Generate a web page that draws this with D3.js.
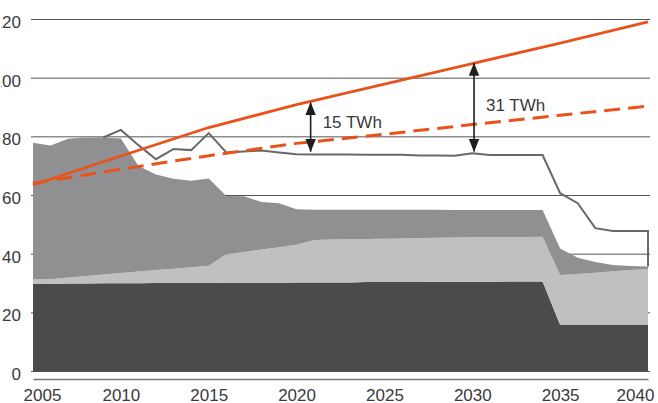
<!DOCTYPE html>
<html>
<head>
<meta charset="utf-8">
<script src="https://cdn.jsdelivr.net/npm/d3@7"></script>
<style>
  html, body { margin: 0; padding: 0; background: #fff; }
  svg { display: block; font-family: "Liberation Sans", Arial, Helvetica, sans-serif; }
</style>
</head>
<body>
<svg id="chart" width="658" height="403"></svg>
<script>
// ---- data ----
const years = d3.range(2005, 2041);
// stacked layers (TWh)
const baseLayer = [29.7,29.7,29.8,29.8,29.9,29.9,29.9,30.0,30.0,30.0,30.0,30.1,30.1,30.1,30.1,30.2,30.2,30.2,30.2,30.3,30.3,30.3,30.3,30.4,30.4,30.4,30.4,30.5,30.5,30.5,15.7,15.7,15.7,15.7,15.7,15.7];
const lightTop  = [31.3,31.3,31.9,32.4,32.9,33.4,33.9,34.4,34.9,35.4,35.9,39.8,40.6,41.4,42.2,43.0,44.7,44.8,44.9,45.0,45.1,45.2,45.3,45.4,45.5,45.6,45.6,45.7,45.7,45.8,32.7,33.1,33.5,34.0,34.4,34.8];
const midTop    = [77.8,76.9,79.2,79.6,79.6,79.3,69.9,67.0,65.5,64.9,65.6,59.7,59.6,57.6,57.2,55.1,55.0,55.0,55.0,55.0,55.0,55.0,55.0,55.0,54.9,54.9,54.9,54.9,54.9,54.9,41.8,38.6,37.2,36.1,35.8,35.6];
const lightLayer = lightTop.map((v, i) => +(v - baseLayer[i]).toFixed(2));
const midLayer   = midTop.map((v, i) => +(v - lightTop[i]).toFixed(2));

// demand line (grey)
const demandYears  = [2009,2010,2011,2012,2013,2014,2015,2016,2017,2018,2019,2020,2021,2022,2023,2024,2025,2026,2027,2028,2029,2030,2031,2032,2033,2034,2035,2036,2037,2038,2039,2040,2040];
const demandValues = [79.6,82.2,77.0,72.2,75.7,75.3,81.1,74.5,74.8,75.2,74.5,73.9,73.8,73.8,73.8,73.7,73.7,73.7,73.5,73.5,73.4,74.2,73.6,73.6,73.6,73.6,60.6,57.2,48.7,47.7,47.7,47.7,35.6];

// orange scenarios
const scenYears   = [2005,2010,2015,2020,2025,2030,2035,2040];
const highValues  = [63.4,73.3,83.0,90.8,97.8,104.8,111.8,119.0];
const lowValues   = [64.0,68.8,73.4,77.6,80.7,84.0,87.2,90.3];

// annotations
const annYears  = [2020.8, 2030.1];
const annFrom   = [91.5, 104.9];
const annTo     = [74.8, 74.8];
const annLabels = ["15 TWh", "31 TWh"];
const annLabelAt = [82.7, 88.6];

const yTicks = [0,20,40,60,80,100,120];
const xTicks = [2005,2010,2015,2020,2025,2030,2035,2040];

// ---- chart ----
const svg = d3.select("#chart");
const x = d3.scaleLinear().domain([2005, 2040]).range([33, 648]);
const y = d3.scaleLinear().domain([0, 120]).range([371, 19]);

const defs = svg.append("defs");
defs.append("clipPath").attr("id", "viewClip")
  .append("rect").attr("x", 1).attr("y", 0).attr("width", 657).attr("height", 403);

// y axis with gridlines
const yAxis = svg.append("g")
  .attr("clip-path", "url(#viewClip)")
  .append("g")
  .attr("transform", "translate(31,0)")
  .call(d3.axisLeft(y).tickValues(yTicks).tickSize(-619).tickPadding(10).tickFormat(d3.format("d")));
yAxis.select(".domain").remove();
yAxis.selectAll(".tick line").attr("stroke", "#555").attr("stroke-width", 1);
yAxis.selectAll(".tick text").attr("font-size", 17).attr("fill", "#3a3a3a")
  .attr("font-family", "Liberation Sans, Arial, sans-serif").attr("dy", "0.5em");

// stacked areas
const rows = years.map((yr, i) => ({year: yr, base: baseLayer[i], light: lightLayer[i], mid: midLayer[i]}));
const stack = d3.stack().keys(["base", "light", "mid"]);
const series = stack(rows);
const colors = {base: "#4a4b4b", light: "#bfc0c1", mid: "#909092"};
const area = d3.area().x(d => x(d.data.year)).y0(d => y(d[0])).y1(d => y(d[1]));
svg.append("g").selectAll("path").data(series).join("path")
  .attr("d", area).attr("fill", d => colors[d.key]);

// demand line
const line = d3.line().x(d => x(d[0])).y(d => y(d[1]));
svg.append("path")
  .attr("d", line(demandYears.map((yr, i) => [yr, demandValues[i]])))
  .attr("fill", "none").attr("stroke", "#686868").attr("stroke-width", 2).attr("stroke-linejoin", "miter");

// orange scenarios
const orange = "#e8531b";
svg.append("path")
  .attr("d", line(scenYears.map((yr, i) => [yr, lowValues[i]])))
  .attr("fill", "none").attr("stroke", orange).attr("stroke-width", 3).attr("stroke-dasharray", "16,8");
svg.append("path")
  .attr("d", line(scenYears.map((yr, i) => [yr, highValues[i]])))
  .attr("fill", "none").attr("stroke", orange).attr("stroke-width", 2.8);

// x axis
const xAxis = svg.append("g")
  .attr("transform", "translate(0,379)")
  .call(d3.axisBottom(x).tickValues(xTicks).tickSize(0).tickSizeOuter(0).tickPadding(10).tickFormat(d3.format("d")));
xAxis.select(".domain").attr("stroke", "#777").attr("stroke-width", 1.6);
xAxis.selectAll(".tick text").attr("font-size", 17).attr("fill", "#3a3a3a")
  .attr("font-family", "Liberation Sans, Arial, sans-serif");
xAxis.selectAll(".tick text").filter(d => d === 2005).attr("x", 9);
xAxis.selectAll(".tick text").filter(d => d === 2040).attr("x", -13);

// arrows
defs.append("marker").attr("id", "arr")
  .attr("viewBox", "0 -6 13 12").attr("refX", 12.5).attr("refY", 0)
  .attr("markerWidth", 13).attr("markerHeight", 12).attr("markerUnits", "userSpaceOnUse")
  .attr("orient", "auto-start-reverse")
  .append("path").attr("d", "M0,-5.2L13,0L0,5.2Z").attr("fill", "#1e1e1e");

const ann = svg.append("g");
annYears.forEach((yr, i) => {
  ann.append("line")
    .attr("x1", x(yr)).attr("x2", x(yr))
    .attr("y1", y(annFrom[i])).attr("y2", y(annTo[i]))
    .attr("stroke", "#1e1e1e").attr("stroke-width", 1.6)
    .attr("marker-start", "url(#arr)").attr("marker-end", "url(#arr)");
  ann.append("text")
    .attr("x", x(yr) + 12).attr("y", y(annLabelAt[i]))
    .attr("font-size", 17).attr("fill", "#3a3a3a")
    .text(annLabels[i]);
});
</script>
</body>
</html>
